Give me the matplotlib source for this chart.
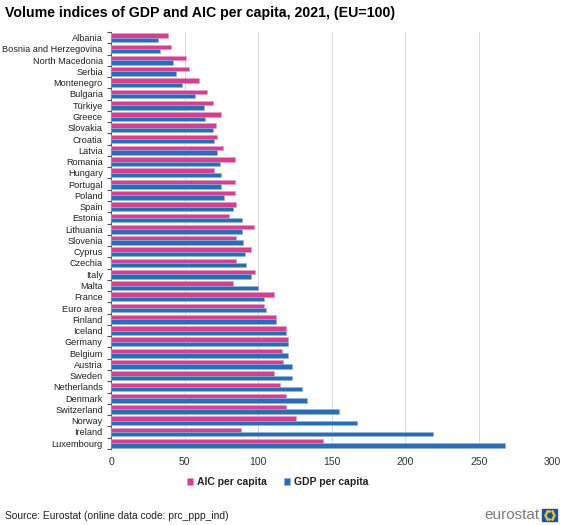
import numpy as np
import matplotlib
matplotlib.use("Agg")
from matplotlib import pyplot as plt
from matplotlib.patches import Rectangle

countries = ["Albania", "Bosnia and Herzegovina", "North Macedonia", "Serbia",
             "Montenegro", "Bulgaria", "Türkiye", "Greece", "Slovakia", "Croatia",
             "Latvia", "Romania", "Hungary", "Portugal", "Poland", "Spain",
             "Estonia", "Lithuania", "Slovenia", "Cyprus", "Czechia", "Italy",
             "Malta", "France", "Euro area", "Finland", "Iceland", "Germany",
             "Belgium", "Austria", "Sweden", "Netherlands", "Denmark",
             "Switzerland", "Norway", "Ireland", "Luxembourg"]
aic = [39, 41, 51, 53, 60, 65, 69, 75, 71, 72, 76, 84, 70, 84, 84, 85,
       80, 97, 85, 95, 85, 98, 83, 111, 104, 112, 119, 120, 116, 117, 111,
       115, 119, 119, 126, 88, 144]
gdp = [32, 33, 42, 44, 48, 57, 63, 64, 69, 70, 72, 74, 75, 75, 77, 83,
       89, 89, 90, 91, 92, 95, 100, 104, 105, 112, 119, 120, 120, 123, 123,
       130, 133, 155, 167, 219, 268]
xticks = [0, 50, 100, 150, 200, 250, 300]

pink = "#d43f91"
blue = "#2b6cb6"
plt.rcParams["font.family"] = ["Liberation Sans", "DejaVu Sans"]

fig = plt.figure(figsize=(5.67, 5.25), dpi=100)
ax = fig.add_axes([0.196, 0.145, 0.778, 0.794])

y = np.arange(len(countries))
h = 0.39
ax.barh(y - h / 2, aic, height=h, color=pink, edgecolor="#e79ac4",
        linewidth=0.4, label="AIC per capita", zorder=3)
ax.barh(y + h / 2, gdp, height=h, color=blue, edgecolor="#8fb4de",
        linewidth=0.4, label="GDP per capita", zorder=3)

ax.set_ylim(len(countries) - 0.5, -0.5)
ax.set_yticks(y)
ax.set_yticklabels(countries, fontsize=6.6, color="#222222")
ax.set_yticks(np.arange(-0.5, len(countries)), minor=True)
ax.tick_params(axis="y", which="major", length=0, pad=6)
ax.tick_params(axis="y", which="minor", length=3, color="#555555", width=0.8)
ax.set_xlim(0, 300)
ax.set_xticks(xticks)
ax.tick_params(axis="x", length=0, labelsize=7.5, colors="#333333", pad=6)
ax.grid(axis="x", color="#d9d9d9", linewidth=0.7, zorder=0)
for s in ["top", "right", "bottom"]:
    ax.spines[s].set_visible(False)
ax.spines["left"].set_color("#555555")
ax.spines["left"].set_linewidth(0.8)

leg = fig.legend(loc="center", bbox_to_anchor=(0.49, 0.082), ncol=2,
                 frameon=False, fontsize=7.5, handlelength=0.6,
                 handleheight=0.6, columnspacing=1.6, handletextpad=0.4)
for t in leg.get_texts():
    t.set_fontweight("bold")
    t.set_color("#222222")

fig.text(0.009, 0.975, "Volume indices of GDP and AIC per capita, 2021, (EU=100)",
         fontsize=10.2, fontweight="bold", va="center", ha="left")
fig.text(0.009, 0.017, "Source: Eurostat (online data code: prc_ppp_ind)",
         fontsize=7.4, va="center", ha="left", color="#222222")

# eurostat logo
fig.text(0.952, 0.019, "eurostat", fontsize=11, color="#7a7a7a",
         ha="right", va="center")
fx, fy, fw, fh = 0.956, 0.008, 0.026, 0.022
fig.patches.append(Rectangle((fx, fy), fw, fh, transform=fig.transFigure,
                             color="#1f4fa8"))
ang = np.linspace(0, 2 * np.pi, 12, endpoint=False)
fig.add_artist(plt.Line2D(fx + fw / 2 + 0.0075 * np.cos(ang),
                          fy + fh / 2 + 0.0081 * np.sin(ang),
                          transform=fig.transFigure, linestyle="none",
                          marker="o", markersize=0.9, color="#f3d21c"))

fig.savefig("out.png", dpi=100)
